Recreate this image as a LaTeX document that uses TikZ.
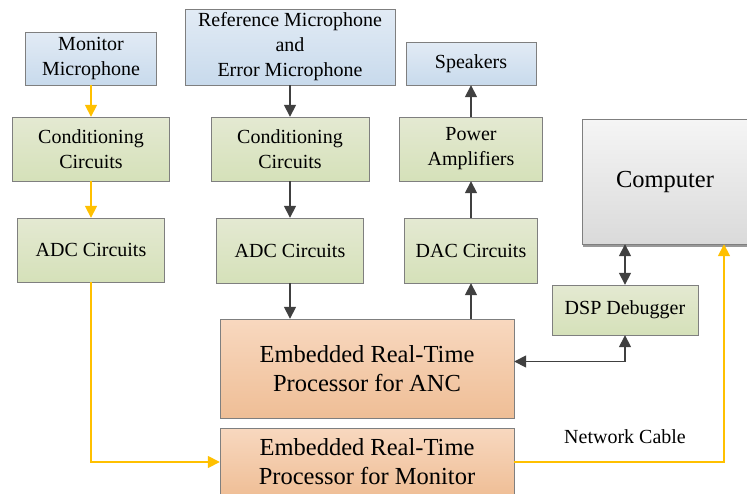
\documentclass[tikz,border=0pt]{standalone}
\usepackage{fontspec}
\setmainfont{Liberation Serif}
\usepackage{tikz}
\usetikzlibrary{shapes,arrows.meta,positioning,calc,shadows}
\definecolor{micTop}{HTML}{E2EBF5}
\definecolor{micBot}{HTML}{C8DAEC}
\definecolor{cirTop}{HTML}{E4E9D2}
\definecolor{cirBot}{HTML}{D5E1B9}
\definecolor{proTop}{HTML}{F8D8BF}
\definecolor{proBot}{HTML}{EFBE96}
\definecolor{pcTop}{HTML}{F5F5F5}
\definecolor{pcBot}{HTML}{DADADA}
\definecolor{edge}{HTML}{7F7F7F}
\definecolor{darkline}{HTML}{404040}
\definecolor{monline}{HTML}{FFC000}
\tikzset{
micbox/.style = {draw=edge, rectangle, align=center, inner sep=0pt, top color=micTop, bottom color=micBot, font=\fontsize{20}{25}\selectfont},
circbox/.style = {draw=edge, rectangle, align=center, inner sep=0pt, top color=cirTop, bottom color=cirBot, font=\fontsize{20}{25}\selectfont},
procbox/.style = {draw=edge, rectangle, align=center, inner sep=0pt, top color=proTop, bottom color=proBot, font=\fontsize{24.5}{29}\selectfont},
pcbox/.style = {draw=edge, rectangle, align=center, inner sep=0pt, top color=pcTop, bottom color=pcBot, font=\fontsize{24.5}{29}\selectfont, drop shadow={shadow xshift=1pt, shadow yshift=-3pt, fill=gray, opacity=0.8}},
sig/.style = {draw=darkline, line width=1.6pt},
mon/.style = {draw=monline, line width=1.6pt},
}
\begin{document}
\begin{tikzpicture}[x=1pt, y=-1pt, >={Triangle[length=12pt,width=12pt]}]
    \useasboundingbox (0,0) rectangle (747,493);
    % monitor chain
    \node [micbox, minimum width=131pt, minimum height=53pt] (monmic) at (91,58.5) {Monitor\\Microphone};
    \node [circbox, minimum width=157pt, minimum height=64pt] (cond1) at (91,149) {Conditioning\\Circuits};
    \node [circbox, minimum width=147pt, minimum height=64pt] (adc1) at (91,250) {ADC Circuits};
    % anc chain
    \node [micbox, minimum width=210pt, minimum height=76pt] (refmic) at (290,47) {Reference Microphone\\and\\Error Microphone};
    \node [circbox, minimum width=158pt, minimum height=64pt] (cond2) at (290,149) {Conditioning\\Circuits};
    \node [circbox, minimum width=147pt, minimum height=65pt] (adc2) at (290,250.5) {ADC Circuits};
    \node [micbox, minimum width=130pt, minimum height=43pt] (spk) at (471,63.5) {Speakers};
    \node [circbox, minimum width=143pt, minimum height=64pt] (amp) at (471,149) {Power\\Amplifiers};
    \node [circbox, minimum width=133pt, minimum height=65pt] (dac) at (471,250.5) {DAC Circuits};
    % processors
    \node [procbox, minimum width=294pt, minimum height=99pt] (anc) at (367,368.5) {Embedded Real-Time\\Processor for ANC};
    \node [procbox, minimum width=294pt, minimum height=68pt] (monproc) at (367,462) {Embedded Real-Time\\Processor for Monitor};
    % host side
    \node [pcbox, minimum width=166pt, minimum height=125pt] (pc) at (665,181.5) {Computer};
    \node [circbox, minimum width=146pt, minimum height=50pt] (dsp) at (625,310) {DSP Debugger};
    \node [font=\fontsize{20}{24}\selectfont] (cable) at (625,437) {Network Cable};

    \draw [mon, ->] (monmic) -- (cond1);
    \draw [mon, ->] (cond1) -- (adc1);
    \draw [mon, ->] (adc1.south) |- (monproc.west);
    \draw [mon, ->] (monproc.east) -| ([xshift=59pt]pc.south);

    \draw [sig, ->] (refmic) -- (cond2);
    \draw [sig, ->] (cond2) -- (adc2);
    \draw [sig, ->] (adc2.south) -- (adc2.south |- anc.north);
    \draw [sig, ->] (dac.south |- anc.north) -- (dac.south);
    \draw [sig, ->] (dac) -- (amp);
    \draw [sig, ->] (amp) -- (spk);
    \draw [sig, <->] (dsp.north) -- (dsp.north |- pc.south);
    \draw [sig, <->] ([yshift=7pt]anc.east) -| (dsp.south);
\end{tikzpicture}
\end{document}
